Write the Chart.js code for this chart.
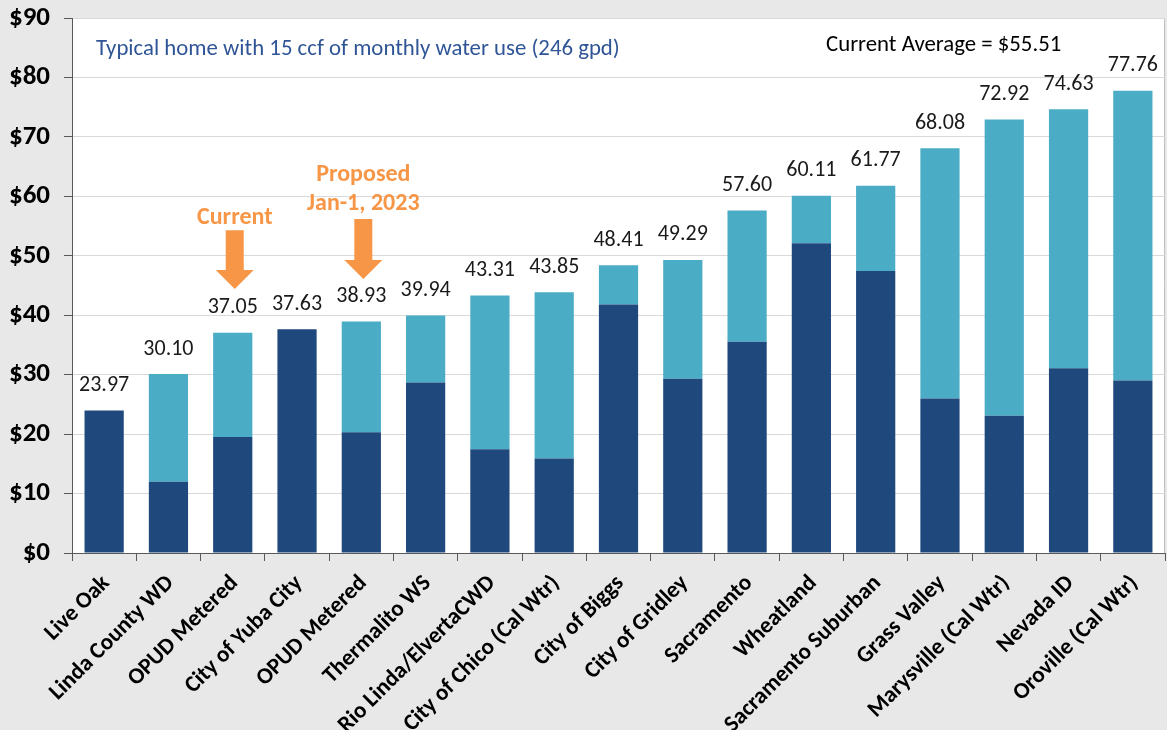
<!DOCTYPE html>
<html>
<head>
<meta charset="utf-8">
<script src="https://cdn.jsdelivr.net/npm/chart.js@4"></script>
<style>
  html, body { margin: 0; padding: 0; background: #e8e8e8; }
  #wrap { width: 1167px; height: 730px; position: relative; }
</style>
</head>
<body>
<div id="wrap"><canvas id="chart"></canvas></div>
<script>
// ── Данные ─────────────────────────────────────────────
const categories = [
  'Live Oak', 'Linda County WD', 'OPUD Metered', 'City of Yuba City', 'OPUD Metered',
  'Thermalito WS', 'Rio Linda/ElvertaCWD', 'City of Chico (Cal Wtr)', 'City of Biggs',
  'City of Gridley', 'Sacramento', 'Wheatland', 'Sacramento Suburban', 'Grass Valley',
  'Marysville (Cal Wtr)', 'Nevada ID', 'Oroville (Cal Wtr)'
];
// нижняя (тёмная) часть столбца
const fixedCharge = [23.97, 12.00, 19.50, 37.63, 20.30, 28.70, 17.45, 15.90, 41.80,
                     29.30, 35.55, 52.10, 47.45, 26.00, 23.10, 31.10, 29.00];
// верхняя (голубая) часть столбца
const usageCharge = [0, 18.10, 17.55, 0, 18.63, 11.24, 25.86, 27.95, 6.61,
                     19.99, 22.05, 8.01, 14.32, 42.08, 49.82, 43.53, 48.76];
const totalLabels = ['23.97', '30.10', '37.05', '37.63', '38.93', '39.94', '43.31', '43.85',
                     '48.41', '49.29', '57.60', '60.11', '61.77', '68.08', '72.92', '74.63', '77.76'];
const yTicks = [0, 10, 20, 30, 40, 50, 60, 70, 80, 90];

const subtitle = 'Typical home with 15 ccf of monthly water use (246 gpd)';
const averageNote = 'Current Average = $55.51';

// стрелки-пометки: индекс категории и уровни в $
const arrowNotes = [
  { index: 2, lines: ['Current'], textAt: [56.4], top: 54.3, neck: 47.6, tip: 44.4 },
  { index: 4, lines: ['Proposed', 'Jan-1, 2023'], textAt: [63.6, 58.7], top: 56.2, neck: 49.3, tip: 46.1 },
];

const FONT = "Carlito, Lato, 'Open Sans', sans-serif";
const DARK = '#1f497d';
const LIGHT = '#4bacc6';
const ORANGE = '#f79646';

// ── Плагин: белая область графика ─────────────────────
const plotAreaPlugin = {
  id: 'plotArea',
  beforeDraw(chart) {
    const { ctx, chartArea: a } = chart;
    ctx.save();
    ctx.fillStyle = '#e8e8e8';
    ctx.fillRect(0, 0, chart.width, chart.height);
    ctx.fillStyle = '#ffffff';
    ctx.fillRect(a.left, a.top, a.right - a.left, a.bottom - a.top);
    ctx.strokeStyle = '#bfbfbf';
    ctx.lineWidth = 1;
    ctx.beginPath();
    ctx.moveTo(a.right - 0.5, a.top);
    ctx.lineTo(a.right - 0.5, a.bottom);
    ctx.stroke();
    ctx.restore();
  },
};

// ── Плагин: подписи итогов, текст и стрелки ───────────
const notesPlugin = {
  id: 'notes',
  afterDatasetsDraw(chart) {
    const { ctx, chartArea: a, scales: { x, y } } = chart;
    const top = chart.getDatasetMeta(1);
    ctx.save();
    ctx.textAlign = 'center';
    ctx.textBaseline = 'middle';
    ctx.font = `400 22px ${FONT}`;
    ctx.fillStyle = '#1a1a1a';
    top.data.forEach((bar, i) => {
      ctx.fillText(totalLabels[i], bar.x, bar.y - 25);
    });

    ctx.textAlign = 'left';
    ctx.font = `400 22.8px ${FONT}`;
    ctx.fillStyle = '#2f5597';
    ctx.fillText(subtitle, a.left + 24, a.top + 31);
    ctx.fillStyle = '#000000';
    ctx.fillText(averageNote, a.right - 339, a.top + 27);

    ctx.fillStyle = ORANGE;
    ctx.textAlign = 'center';
    ctx.font = `700 24px ${FONT}`;
    arrowNotes.forEach(n => {
      const cx = x.getPixelForValue(n.index) + 2;
      n.lines.forEach((t, k) => ctx.fillText(t, cx, y.getPixelForValue(n.textAt[k])));
      const yTop = y.getPixelForValue(n.top);
      const yNeck = y.getPixelForValue(n.neck);
      const yTip = y.getPixelForValue(n.tip);
      ctx.beginPath();
      ctx.moveTo(cx - 9, yTop);
      ctx.lineTo(cx + 9, yTop);
      ctx.lineTo(cx + 9, yNeck);
      ctx.lineTo(cx + 19, yNeck);
      ctx.lineTo(cx, yTip);
      ctx.lineTo(cx - 19, yNeck);
      ctx.lineTo(cx - 9, yNeck);
      ctx.closePath();
      ctx.fill();
    });
    ctx.restore();
  },
};

new Chart(document.getElementById('chart'), {
  type: 'bar',
  data: {
    labels: categories,
    datasets: [
      { label: 'Fixed', data: fixedCharge, backgroundColor: DARK, borderWidth: 0 },
      { label: 'Usage', data: usageCharge, backgroundColor: LIGHT, borderWidth: 0 },
    ],
  },
  options: {
    responsive: true,
    maintainAspectRatio: false,
    animation: false,
    datasets: { bar: { categoryPercentage: 1, barPercentage: 0.61 } },
    layout: { padding: { top: 18, right: 2, left: 0, bottom: 0 } },
    scales: {
      x: {
        stacked: true,
        border: { color: '#595959', width: 1 },
        grid: { drawOnChartArea: false, tickColor: '#595959', tickLength: 8, offset: true },
        ticks: {
          autoSkip: false, minRotation: 45, maxRotation: 45, padding: 9, labelOffset: 2,
          color: '#000', font: { family: FONT, size: 23, weight: '700' },
        },
        afterFit: s => { s.height = 177; s.paddingLeft = 0; s.paddingRight = 0; },
      },
      y: {
        stacked: true,
        min: 0, max: 90,
        afterBuildTicks: s => { s.ticks = yTicks.map(v => ({ value: v })); },
        border: { color: '#595959', width: 1 },
        grid: { color: '#d9d9d9', tickColor: '#595959', tickLength: 8 },
        ticks: {
          padding: 14,
          color: '#000', font: { family: FONT, size: 27, weight: '700' },
          callback: v => '$' + v,
        },
        afterFit: s => { s.width = 72; s.paddingTop = 0; s.paddingBottom = 0; },
      },
    },
    plugins: { legend: { display: false }, tooltip: { enabled: false } },
  },
  plugins: [plotAreaPlugin, notesPlugin],
});
</script>
</body>
</html>
